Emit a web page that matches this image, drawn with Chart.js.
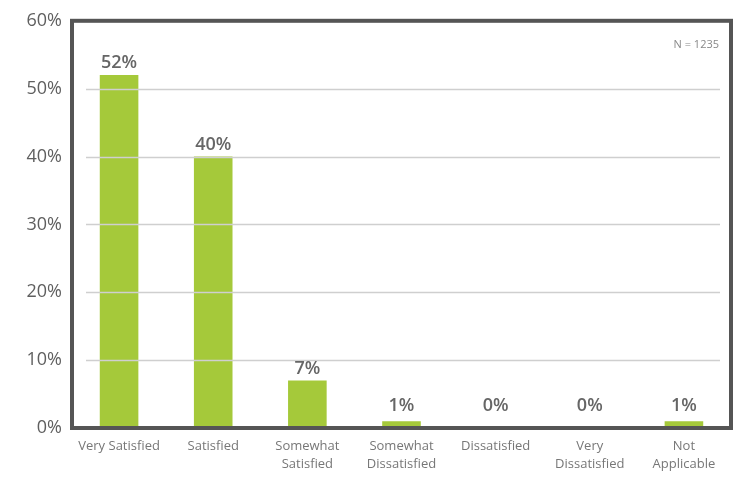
<!DOCTYPE html>
<html>
<head>
<meta charset="utf-8">
<script src="https://cdn.jsdelivr.net/npm/chart.js@4"></script>
<style>
    html, body { margin: 0; padding: 0; background: #fff; }
    #wrap { width: 737px; height: 477px; }
</style>
</head>
<body>
<div id="wrap"><canvas id="satChart" width="737" height="477"></canvas></div>
<script>
const CATEGORIES = [
    'Very Satisfied',
    'Satisfied',
    ['Somewhat', 'Satisfied'],
    ['Somewhat', 'Dissatisfied'],
    'Dissatisfied',
    ['Very', 'Dissatisfied'],
    ['Not', 'Applicable'],
];
const PERCENTS = [52, 40, 7, 1, 0, 0, 1];
const Y_TICKS = [0, 10, 20, 30, 40, 50, 60];
const SAMPLE_NOTE = 'N = 1235';

const BAR_COLOR = '#a5c93a';
const INK = '#666666';
const FRAME = '#555555';
const GRID = '#cfcfcf';

// box around the plot, inset grid lines on top of bars, value labels, sample size
const framePlugin = {
    id: 'frame',
    afterDatasetsDraw(chart) {
        const { ctx, chartArea: a, scales } = chart;
        ctx.save();

        ctx.strokeStyle = GRID;
        ctx.lineWidth = 1.5;
        Y_TICKS.slice(1, -1).forEach((v) => {
            const y = Math.round(scales.y.getPixelForValue(v)) + 0.5;
            ctx.beginPath();
            ctx.moveTo(a.left + 14, y);
            ctx.lineTo(a.right - 11, y);
            ctx.stroke();
        });

        ctx.strokeStyle = FRAME;
        ctx.lineWidth = 4;
        ctx.strokeRect(a.left, a.top, a.right - a.left, a.bottom - a.top);

        ctx.fillStyle = INK;
        ctx.font = '600 18px "Open Sans"';
        ctx.textAlign = 'center';
        ctx.textBaseline = 'bottom';
        const meta = chart.getDatasetMeta(0);
        meta.data.forEach((bar, i) => {
            const top = Math.min(bar.y, a.bottom - 10);
            ctx.fillText(PERCENTS[i] + '%', bar.x, top - 3);
        });

        ctx.fillStyle = '#888';
        ctx.font = '11px "Open Sans"';
        ctx.textAlign = 'right';
        ctx.textBaseline = 'middle';
        ctx.fillText(SAMPLE_NOTE, a.right - 12, a.top + 24);

        ctx.restore();
    },
};

new Chart(document.getElementById('satChart').getContext('2d'), {
    type: 'bar',
    data: {
        labels: CATEGORIES,
        datasets: [{
            data: PERCENTS,
            backgroundColor: BAR_COLOR,
            categoryPercentage: 1,
            barPercentage: 0.41,
            borderWidth: 0,
        }],
    },
    options: {
        responsive: false,
        animation: false,
        layout: { padding: { top: 18, right: 6, left: 0, bottom: 0 } },
        plugins: {
            legend: { display: false },
            tooltip: { enabled: false },
        },
        scales: {
            x: {
                grid: { display: false, drawTicks: false },
                border: { display: false },
                ticks: {
                    font: { family: 'Open Sans', size: 13, lineHeight: 1.35 },
                    color: '#777',
                    padding: 10,
                    maxRotation: 0,
                    autoSkip: false,
                },
                afterFit: (scale) => { scale.height = 49; },
            },
            y: {
                min: 0,
                max: 60,
                grid: { display: false, drawTicks: false },
                border: { display: false },
                afterBuildTicks: (scale) => { scale.ticks = Y_TICKS.map((value) => ({ value })); },
                ticks: {
                    font: { family: 'Open Sans', size: 18 },
                    color: '#5f5f5f',
                    padding: 10,
                    callback: (value) => value + '%',
                },
                afterFit: (scale) => { scale.width = 72; },
            },
        },
    },
    plugins: [framePlugin],
});
</script>
</body>
</html>
